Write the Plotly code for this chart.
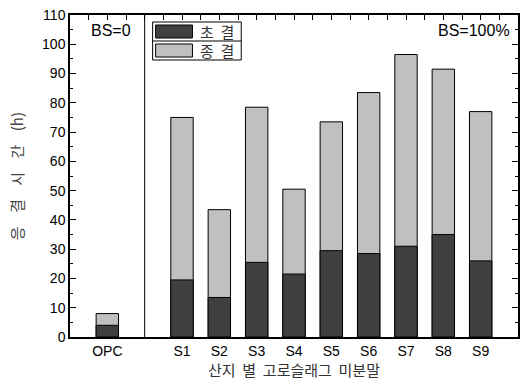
import plotly.graph_objects as go

# Setting times (h) for OPC and slag powders S1-S9
categories = ["OPC", "S1", "S2", "S3", "S4", "S5", "S6", "S7", "S8", "S9"]
initial_set = [4, 19.5, 13.5, 25.5, 21.5, 29.5, 28.5, 31, 35, 26]
final_set = [8, 75, 43.5, 78.5, 50.5, 73.5, 83.5, 96.5, 91.5, 77]
y_ticks = [0, 10, 20, 30, 40, 50, 60, 70, 80, 90, 100, 110]

# category order with a blank slot between OPC and the slag group
spacer = " "
category_order = [categories[0], spacer] + categories[1:]

W, H = 526, 381
L, R, T, B = 70, 6, 15, 44
PW, PH = W - L - R, H - T - B


def px_x(x):
    return (x - L) / PW


def px_y(y):
    return (H - B - y) / PH


DARK = "#404040"
LIGHT = "#c0c0c0"
KFONT = "Noto Sans CJK KR"
AFONT = "Liberation Sans"
NB = "\u00a0"

fig = go.Figure()
fig.add_trace(go.Bar(
    x=categories, y=final_set, name="종 결", width=0.6,
    marker=dict(color=LIGHT, line=dict(color="black", width=1)),
))
fig.add_trace(go.Bar(
    x=categories, y=initial_set, name="초 결", width=0.6,
    marker=dict(color=DARK, line=dict(color="black", width=1)),
))
# helper trace that carries the top tick axis
fig.add_trace(go.Scatter(x=[0], y=[0], xaxis="x2", mode="markers",
                         marker=dict(opacity=0), hoverinfo="skip",
                         showlegend=False))

shapes = [
    # divider between the BS=0 and BS=100% groups
    dict(type="line", xref="x", yref="paper", x0=1, x1=1, y0=0, y1=1,
         line=dict(color="black", width=1)),
]

# legend box
lx0, lx1, ly0, ly1, lmid = 153, 242, 22, 60, 41
shapes.append(dict(type="rect", xref="paper", yref="paper",
                   x0=px_x(lx0), x1=px_x(lx1), y0=px_y(ly1), y1=px_y(ly0),
                   line=dict(color="black", width=1), fillcolor="white"))
shapes.append(dict(type="line", xref="paper", yref="paper",
                   x0=px_x(lx0), x1=px_x(lx1), y0=px_y(lmid), y1=px_y(lmid),
                   line=dict(color="black", width=1)))
annotations = []
for (top, bot), color, label in [((25, 38), DARK, "초" + NB * 2 + "결"),
                                 ((44, 57), LIGHT, "종" + NB * 2 + "결")]:
    shapes.append(dict(type="rect", xref="paper", yref="paper",
                       x0=px_x(156), x1=px_x(193), y0=px_y(bot), y1=px_y(top),
                       line=dict(color="black", width=1), fillcolor=color))
    annotations.append(dict(xref="paper", yref="paper", x=px_x(218),
                            y=px_y((top + bot) / 2), text=label, showarrow=False,
                            xanchor="center", yanchor="middle",
                            font=dict(family=KFONT, size=15, color="#333")))

gap = NB * 4
annotations += [
    dict(xref="paper", yref="paper", x=px_x(111), y=px_y(31), text="BS=0",
         showarrow=False, xanchor="center", yanchor="middle",
         font=dict(family=AFONT, size=16, color="black")),
    dict(xref="paper", yref="paper", x=px_x(514), y=px_y(31), text="BS=100%",
         showarrow=False, xanchor="right", yanchor="middle",
         font=dict(family=AFONT, size=16, color="black")),
    dict(xref="paper", yref="paper", x=px_x(16), y=0.5,
         text=gap.join(["응", "결", "시", "간", "(h)"]),
         showarrow=False, textangle=-90, xanchor="center", yanchor="middle",
         font=dict(family=KFONT, size=15, color="#444")),
    dict(xref="paper", yref="paper", x=0.5, y=px_y(369),
         text="산지" + NB * 2 + "별" + NB * 2 + "고로슬래그" + NB * 2 + "미분말",
         showarrow=False, xanchor="center", yanchor="middle",
         font=dict(family=KFONT, size=15, color="#333")),
]

fig.update_layout(
    width=W, height=H,
    margin=dict(l=L, r=R, t=T, b=B),
    paper_bgcolor="white", plot_bgcolor="white",
    barmode="overlay",
    showlegend=False,
    xaxis=dict(
        type="category", categoryorder="array", categoryarray=category_order,
        range=[-1, 11], showline=True, linecolor="black", linewidth=1.5,
        mirror=True, ticks="", showgrid=False, zeroline=False,
        tickfont=dict(family=AFONT, size=14, color="black"),
    ),
    xaxis2=dict(
        overlaying="x", side="top", range=[-1, 11], showline=False,
        showgrid=False, zeroline=False, showticklabels=False,
        ticks="inside", ticklen=5, tickcolor="black", tick0=0, dtick=0.5,
    ),
    yaxis=dict(
        range=[0, 110], tickvals=y_ticks, showline=True, linecolor="black",
        linewidth=1.5, mirror="ticks", ticks="inside", ticklen=6,
        tickcolor="black", showgrid=False, zeroline=False,
        tickfont=dict(family=AFONT, size=14, color="black"),
        minor=dict(dtick=5, ticks="inside", ticklen=3, tickcolor="black"),
    ),
    shapes=shapes,
    annotations=annotations,
)

fig.write_html("out.html")
